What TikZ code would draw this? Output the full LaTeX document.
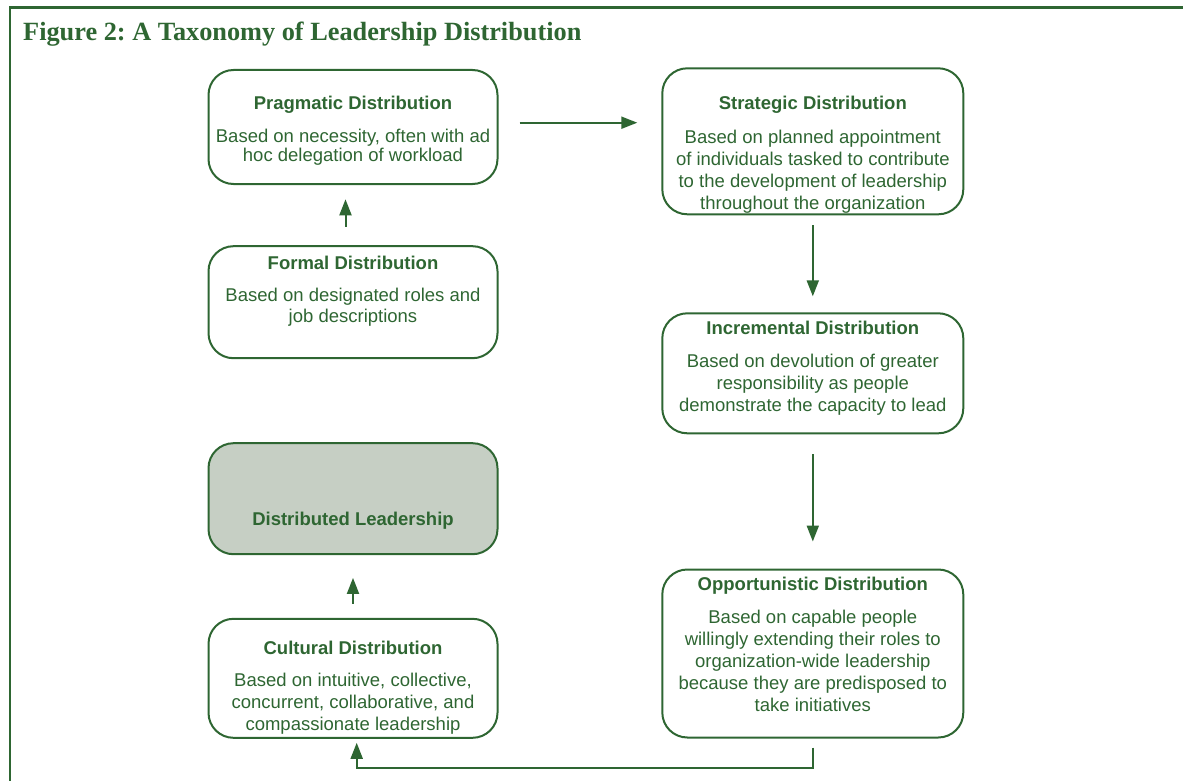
\documentclass[tikz,border=0pt]{standalone}
\usepackage{fontspec}
\setmainfont{Liberation Serif}
\newfontfamily\arialfont{Liberation Sans}
\usetikzlibrary{arrows.meta,calc}
\definecolor{leafgreen}{RGB}{46,102,50}
\definecolor{sage}{RGB}{198,207,196}
\frenchspacing

\begin{document}
\begin{tikzpicture}[x=1pt,y=-1pt,font=\arialfont\fontsize{18.5}{22}\selectfont]
  %----- styles
  \tikzset{
    box/.style   ={draw=leafgreen,line width=2pt,rounded corners=25pt,inner sep=0pt},
    head/.style  ={anchor=base,inner sep=0pt,text=leafgreen,font=\arialfont\bfseries\fontsize{18.5}{22}\selectfont},
    body/.style  ={anchor=base,inner sep=0pt,text=leafgreen,align=center},
    arrow/.style ={-{Triangle[length=16pt,width=12pt]},draw=leafgreen,line width=2pt},
    frame/.style ={draw=leafgreen,line width=2.6pt}
  }
  \useasboundingbox (0,0) rectangle (1183,781);

  %==================== COLUMN LAYOUT ====================
  \def\xL{353}     % left column
  \def\xR{812.8}   % right column

  %----- frame and title
  \draw[frame] (10,7.3) rectangle (1200,800);
  \node[anchor=base west,inner sep=0pt,text=leafgreen,font=\rmfamily\bfseries\fontsize{26.3}{30}\selectfont] (title) at (23,40.7) {Figure 2: A Taxonomy of Leadership Distribution};

  %----- boxes
  \node[box,minimum width=289pt,minimum height=114pt] (prag) at (\xL,127) {};
  \node[box,minimum width=301pt,minimum height=146pt] (strat) at (\xR,141.3) {};
  \node[box,minimum width=289pt,minimum height=112pt] (formal) at (\xL,302.2) {};
  \node[box,minimum width=301pt,minimum height=120pt] (incr) at (\xR,373.3) {};
  \node[box,fill=sage,minimum width=289pt,minimum height=111pt] (dist) at (\xL,498.7) {};
  \node[box,minimum width=289pt,minimum height=119pt] (cult) at (\xL,678.3) {};
  \node[box,minimum width=301pt,minimum height=168pt] (opp) at (\xR,653.5) {};

  %----- texts (body nodes sit on the baseline of their last line)
  \node[head] (pragT) at (\xL,110) {Pragmatic Distribution};
  \node[body] (pragB) at (\xL,161.7) {Based on necessity, often with ad\\[-3pt]hoc delegation of workload};

  \node[head] (stratT) at (\xR,110) {Strategic Distribution};
  \node[body] (stratB) at (\xR,209.3) {Based on planned appointment\\of individuals tasked to contribute\\to the development of leadership\\throughout the organization};

  \node[head] (formalT) at (\xL,269.3) {Formal Distribution};
  \node[body] (formalB) at (\xL,322.7) {Based on designated roles and\\[-1pt]job descriptions};

  \node[head] (incrT) at (\xR,334) {Incremental Distribution};
  \node[body] (incrB) at (\xR,411) {Based on devolution of greater\\responsibility as people\\demonstrate the capacity to lead};

  \node[head] (distT) at (\xL,525.7) {Distributed Leadership};

  \node[head] (cultT) at (\xL,654) {Cultural Distribution};
  \node[body] (cultB) at (\xL,730) {Based on intuitive, collective,\\concurrent, collaborative, and\\compassionate leadership};

  \node[head] (oppT) at (\xR,590) {Opportunistic Distribution};
  \node[body] (oppB) at (\xR,711) {Based on capable people\\willingly extending their roles to\\organization-wide leadership\\because they are predisposed to\\take initiatives};

  %----- connections
  \draw[arrow] ($(prag.east)+(21,-4.3)$) -- ($(prag.east -| strat.west)+(-24,-4.3)$);
  \draw[arrow] ($(formal.north)+(-7.5,-18.3)$) -- ($(prag.south)+(-7.5,14.3)$);
  \draw[arrow] ($(strat.south)+(0,9.7)$) -- ($(incr.north)+(0,-16)$);
  \draw[arrow] ($(incr.south)+(0,20)$) -- ($(opp.north)+(0,-27)$);
  \draw[arrow] ($(cult.north)+(0,-14)$) -- ($(dist.south)+(0,22.7)$);
  % loop back from the bottom right
  \draw[arrow] ($(opp.south)+(0,9)$) |- ($(cult.south)+(3.7,29)$) -- ($(cult.south)+(3.7,4)$);

\end{tikzpicture}
\end{document}
